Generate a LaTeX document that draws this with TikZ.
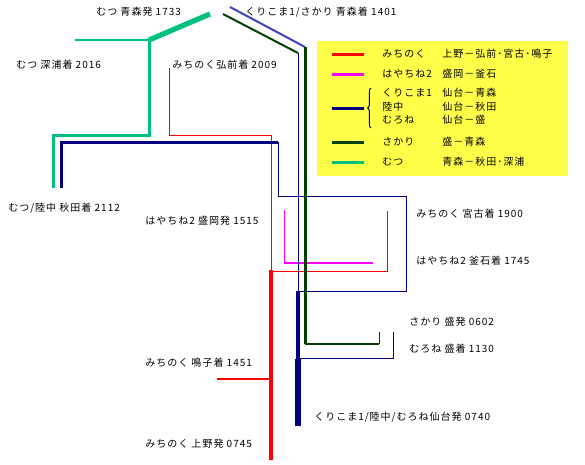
\documentclass[tikz,border=0pt]{standalone}
\usepackage{fontspec}
\newfontfamily\jpfont[LetterSpace=10]{Noto Sans CJK JP}
\usetikzlibrary{positioning, decorations.pathreplacing}
\definecolor{lineRed}{HTML}{FF0000}
\definecolor{lineMagenta}{HTML}{FF00FF}
\definecolor{lineNavy}{HTML}{000080}
\definecolor{lineBlue}{HTML}{4040C0}
\definecolor{lineGreen}{HTML}{004000}
\definecolor{lineTeal}{HTML}{00C080}
\definecolor{legendFill}{HTML}{FFFF4A}
\tikzset{
  stationlabel/.style={
    font=\jpfont\fontsize{7.5}{9}\selectfont, text=black,
    anchor=west, inner sep=0pt,
  },
  legendbox/.style={
    fill=legendFill, draw=none, anchor=north west,
    minimum width=188pt, minimum height=101pt, inner sep=0pt,
  },
  swatch/.style={line width=2.25pt},
  px1/.style={line width=0.75pt},
  px2/.style={line width=1.5pt},
  px3/.style={line width=2.25pt},
  px4/.style={line width=3pt},
  px5/.style={line width=3.9pt},
}

\begin{document}
\begin{tikzpicture}[x=0.75pt, y=-0.75pt]
  \useasboundingbox (0,0) rectangle (585,464);

  % === Legend ===
  \node[legendbox] (legend) at (317,41) {};
  \draw[swatch, lineRed] (332,54) -- (364,54);
  \draw[swatch, lineMagenta] (332,74) -- (364,74);
  \draw[swatch, lineNavy] (332,108) -- (364,108);
  \draw[swatch, lineGreen] (332,142) -- (364,142);
  \draw[swatch, lineTeal] (332,162) -- (364,162);
  \draw[px1, decorate, decoration={brace, amplitude=2.5pt}] (371,128) -- (371,88);
  \node[stationlabel] (lgMichinoku) at (382,54) {みちのく};
  \node[stationlabel] (lgHayachine) at (382,74) {はやちね2};
  \node[stationlabel] (lgKurikoma) at (382,93) {くりこま1};
  \node[stationlabel] (lgRikuchu) at (382,107) {陸中};
  \node[stationlabel] (lgMurone) at (382,120) {むろね};
  \node[stationlabel] (lgSakari) at (382,142) {さかり};
  \node[stationlabel] (lgMutsu) at (382,162) {むつ};
  \node[stationlabel] (rtMichinoku) at (442,54) {上野－弘前･宮古･鳴子};
  \node[stationlabel] (rtHayachine) at (442,74) {盛岡－釜石};
  \node[stationlabel] (rtKurikoma) at (442,93) {仙台－青森};
  \node[stationlabel] (rtRikuchu) at (442,107) {仙台－秋田};
  \node[stationlabel] (rtMurone) at (442,120) {仙台－盛};
  \node[stationlabel] (rtSakari) at (442,142) {盛－青森};
  \node[stationlabel] (rtMutsu) at (442,162) {青森－秋田･深浦};

  % === Station labels ===
  \node[stationlabel] (aomoriMutsu) at (96,12) {むつ 青森発 1733};
  \node[stationlabel] (aomoriArr) at (245,12) {くりこま1/さかり 青森着 1401};
  \node[stationlabel] (fukaura) at (16,65) {むつ 深浦着 2016};
  \node[stationlabel] (hirosaki) at (172,65) {みちのく弘前着 2009};
  \node[stationlabel] (akita) at (8,208) {むつ/陸中 秋田着 2112};
  \node[stationlabel] (morioka) at (145,221) {はやちね2 盛岡発 1515};
  \node[stationlabel] (miyako) at (416,214) {みちのく 宮古着 1900};
  \node[stationlabel] (kamaishi) at (416,261) {はやちね2 釜石着 1745};
  \node[stationlabel] (sakariDep) at (409,322) {さかり 盛発 0602};
  \node[stationlabel] (sakariArr) at (409,349) {むろね 盛着 1130};
  \node[stationlabel] (naruko) at (145,363) {みちのく 鳴子着 1451};
  \node[stationlabel] (sendai) at (314,417) {くりこま1/陸中/むろね仙台発 0740};
  \node[stationlabel] (ueno) at (145,444) {みちのく 上野発 0745};

  % === Route points ===
  \coordinate (uenoEnd) at (271,460);
  \coordinate (narukoEnd) at (217,379);
  \coordinate (hirosakiEnd) at (169,68);
  \coordinate (miyakoEnd) at (387,211);
  \coordinate (moriokaEnd) at (284,210);
  \coordinate (kamaishiEnd) at (373,263);
  \coordinate (sendaiEnd) at (298,426);
  \coordinate (akitaNavyEnd) at (61,188);
  \coordinate (akitaTealEnd) at (53,188);
  \coordinate (muroneEnd) at (393,332);
  \coordinate (sakariEnd) at (379,332);
  \coordinate (fukauraEnd) at (75,40);
  \coordinate (aomoriTealEnd) at (210,14);

  % === みちのく ===
  \draw[px4, lineRed] (271,270) -- (uenoEnd);
  \draw[px2, lineRed] (narukoEnd) -- (271,379);
  \draw[px1, lineRed] (hirosakiEnd) |- (271,135) -- (271,271) -| (miyakoEnd);

  % === はやちね2 ===
  \draw[px1, lineMagenta] (moriokaEnd) -- (284,263);
  \draw[px2, lineMagenta] (284,263) -- (kamaishiEnd);

  % === くりこま1 / 陸中 / むろね ===
  \draw[px5, lineNavy] (298,359) -- (sendaiEnd);
  \draw[px4, lineNavy] (298,291) -- (298,359);
  \draw[px1, lineNavy] (298,53) -- (298,291) -| (406,196) -| (278,142);
  \draw[px3, lineNavy] (278,142) -| (akitaNavyEnd);
  \draw[px1, lineNavy] (298,358) -| (muroneEnd);
  \draw[px2, lineGreen] (223,14) -- (298,53);

  % === さかり ===
  \draw[px2, lineBlue] (230,7) -- (305,47);
  \draw[px3, lineGreen] (305,47) -- (305,344);
  \draw[px2, lineGreen] (305,344) -- (379,344);
  \draw[px1, lineGreen] (379,344) -- (sakariEnd);

  % === むつ ===
  \draw[px5, lineTeal] (aomoriTealEnd) -- (149,40);
  \draw[px2, lineTeal] (149,40) -- (fukauraEnd);
  \draw[px3, lineTeal] (149,40) |- (53,135) -- (akitaTealEnd);

\end{tikzpicture}
\end{document}
